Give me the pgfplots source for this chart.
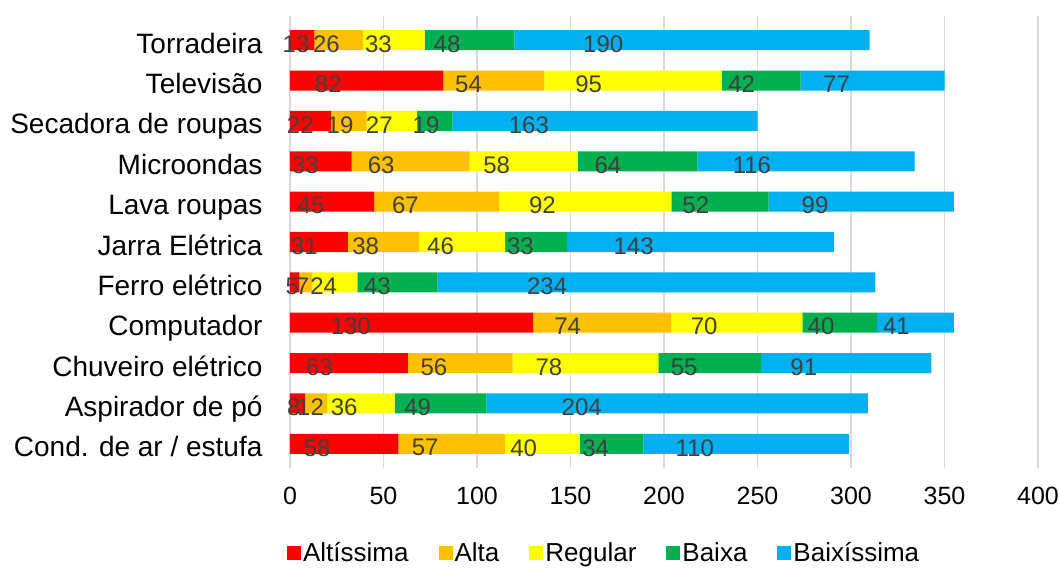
\documentclass[border=0pt]{standalone}
\usepackage{pgfplots}
\pgfplotsset{compat=1.18}
\usepackage{fontspec}
\setmainfont{Liberation Sans}
\definecolor{cRed}{HTML}{FF0000}
\definecolor{cOrange}{HTML}{FFC000}
\definecolor{cYellow}{HTML}{FFFF00}
\definecolor{cGreen}{HTML}{00B050}
\definecolor{cBlue}{HTML}{00B0F0}
\definecolor{lbl}{HTML}{404040}
\definecolor{gridc}{HTML}{D9D9D9}
\begin{document}
\begin{tikzpicture}
\useasboundingbox (-290pt,-100pt) rectangle (769pt,468pt);
\begin{axis}[
  scale only axis, width=748pt, height=452pt,
  xbar stacked, bar width=20pt,
  xmin=0, xmax=400, ymin=-0.6, ymax=10.6,
  xtick={0,50,...,400},
  ytick={0,...,10},
  yticklabels={Cond. de ar / estufa, Aspirador de pó, Chuveiro elétrico, Computador, Ferro elétrico, Jarra Elétrica, Lava roupas, Microondas, Secadora de roupas, Televisão, Torradeira},
  axis line style={draw=none},
  major tick length=0pt,
  xmajorgrids, grid style={gridc, line width=1.5pt},
  /pgf/number format/assume math mode=true,
  xticklabel style={font=\fontsize{25}{25}\selectfont, yshift=-16pt},
  yticklabel style={font=\fontsize{28}{28}\selectfont, xshift=-24pt, yshift=-6pt, text height=20pt, text depth=6pt},
  nodes near coords,
  visualization depends on=rawx \as \rawx,
  every node near coord/.append style={anchor=center, text=lbl, font=\fontsize{24}{24}\selectfont, inner sep=0pt, yshift=-4pt, shift={(axis direction cs:-\rawx/4,0)}},
  legend style={at={(0.42,0)}, anchor=center, yshift=-85pt, draw=none, fill=none,
    font=\fontsize{26}{26}\selectfont, legend columns=-1,
    /tikz/every even column/.append style={column sep=28pt}},
  legend image code/.code={\fill[#1] (0pt,-7pt) rectangle (14pt,7pt);},
]
% order: Cond, Aspirador, Chuveiro, Computador, Ferro, Jarra, Lava, Micro, Secadora, Televisao, Torradeira
\addplot[fill=cRed, draw=none] coordinates {(58,0) (8,1) (63,2) (130,3) (5,4) (31,5) (45,6) (33,7) (22,8) (82,9) (13,10)};
\addplot[fill=cOrange, draw=none] coordinates {(57,0) (12,1) (56,2) (74,3) (7,4) (38,5) (67,6) (63,7) (19,8) (54,9) (26,10)};
\addplot[fill=cYellow, draw=none] coordinates {(40,0) (36,1) (78,2) (70,3) (24,4) (46,5) (92,6) (58,7) (27,8) (95,9) (33,10)};
\addplot[fill=cGreen, draw=none] coordinates {(34,0) (49,1) (55,2) (40,3) (43,4) (33,5) (52,6) (64,7) (19,8) (42,9) (48,10)};
\addplot[fill=cBlue, draw=none] coordinates {(110,0) (204,1) (91,2) (41,3) (234,4) (143,5) (99,6) (116,7) (163,8) (77,9) (190,10)};
\legend{Altíssima, Alta, Regular, Baixa, Baixíssima}
\end{axis}
\end{tikzpicture}
\end{document}
